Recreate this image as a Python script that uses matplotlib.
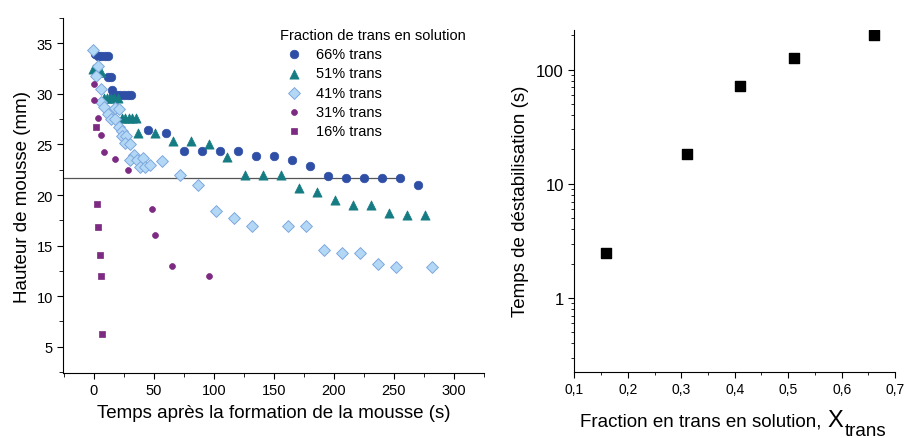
#!/usr/bin/env python3

import matplotlib
matplotlib.use("Agg")
import matplotlib.pyplot as plt
from matplotlib.ticker import MultipleLocator, FuncFormatter, LogLocator, NullFormatter

plt.rcParams["font.family"] = ["Liberation Sans", "DejaVu Sans"]

# --- left panel: foam height vs time, one series per trans fraction ---
t66 = [1, 3, 6, 9, 12, 12, 14, 15, 16, 19, 22, 25, 28, 31, 45, 60, 75, 90, 105, 120,
       135, 150, 165, 180, 195, 210, 225, 240, 255, 270]
h66 = [33.9, 33.7, 33.7, 33.7, 33.7, 31.7, 31.7, 30.4, 29.9, 29.9, 29.9, 29.9, 29.9, 29.9,
       26.4, 26.1, 24.4, 24.4, 24.4, 24.4, 23.9, 23.9, 23.5, 22.9, 21.9, 21.7, 21.7, 21.7,
       21.7, 21.0]

t51 = [-0.5, 4, 6, 8, 11, 14, 17, 20, 23, 26, 29, 32, 35, 37, 51, 66, 81, 96, 111,
       126, 141, 156, 171, 186, 201, 216, 231, 246, 261, 276]
h51 = [32.5, 32.2, 32.2, 29.6, 29.6, 29.6, 29.6, 29.6, 27.6, 27.6, 27.6, 27.6, 27.6, 26.1,
       26.1, 25.3, 25.3, 25.0, 23.8, 22.0, 22.0, 22.0, 20.7, 20.3, 19.5, 19.0, 19.0, 18.2,
       18.0, 18.0]

t41 = [-0.5, 3, 2, 6, 6, 8.5, 12, 14, 17.5, 17.5, 21, 21, 23.5, 23.5, 27, 26, 30, 33,
       30, 35.5, 41, 38, 42.5, 46.5, 57, 72, 87, 102, 117, 132, 162, 177, 192, 207,
       222, 237, 252, 282]
h41 = [34.3, 32.8, 31.8, 30.5, 29.2, 28.7, 28.0, 27.5, 27.5, 28.6, 28.5, 26.7, 26.3, 25.8,
       25.8, 25.1, 25.0, 24.0, 23.5, 23.5, 23.7, 22.8, 22.8, 23.0, 23.4, 22.0, 21.0, 18.4,
       17.7, 16.9, 16.9, 16.9, 14.6, 14.3, 14.3, 13.2, 12.9, 12.9]

t31 = [-0.3, 0.3, 3, 6, 8.5, 17.5, 28, 48.5, 51, 65, 96]
h31 = [31.0, 29.4, 27.6, 25.9, 24.3, 23.6, 22.5, 18.6, 16.0, 13.0, 12.0]

t16 = [1.9, 2.8, 3.6, 4.7, 5.6, 6.4]
h16 = [26.7, 19.1, 16.8, 14.1, 12.0, 6.3]

series_labels = ["66% trans", "51% trans", "41% trans", "31% trans", "16% trans"]

# stability plateau reference line
plateau_h = 21.66
plateau_t_end = 258

# --- right panel: destabilisation time vs trans fraction ---
x_trans = [0.16, 0.31, 0.41, 0.51, 0.66]
t_destab = [2.48, 18.1, 72.4, 126, 201]


fig = plt.figure(figsize=(9.06, 4.39), dpi=100)

ax1 = fig.add_axes([0.0699, 0.148, 0.4643, 0.8087])
ax2 = fig.add_axes([0.634, 0.151, 0.354, 0.779])

dark_blue = "#2f4fa6"
teal = "#157c83"
light_face = "#b3d8f6"
light_edge = "#7ea8de"
purple = "#7d2a82"

ax1.hlines(plateau_h, -25.5, plateau_t_end, color="#555555", linewidth=0.9, zorder=1)

ax1.scatter(t66, h66, s=38, marker="o", color=dark_blue, edgecolors=dark_blue,
            linewidths=0.5, label=series_labels[0], zorder=3)
ax1.scatter(t51, h51, s=44, marker="^", color=teal, edgecolors=teal,
            linewidths=0.5, label=series_labels[1], zorder=3)
ax1.scatter(t41, h41, s=36, marker="D", color=light_face, edgecolors=light_edge,
            linewidths=0.7, label=series_labels[2], zorder=4)
ax1.scatter(t31, h31, s=18, marker="o", color=purple, edgecolors=purple,
            linewidths=0.5, label=series_labels[3], zorder=5)
ax1.scatter(t16, h16, s=22, marker="s", color=purple, edgecolors=purple,
            linewidths=0.5, label=series_labels[4], zorder=5)

ax1.set_xlim(-25.5, 325)
ax1.set_ylim(2.4, 37.5)
ax1.xaxis.set_major_locator(MultipleLocator(50))
ax1.xaxis.set_minor_locator(MultipleLocator(25))
ax1.yaxis.set_major_locator(MultipleLocator(5))
ax1.yaxis.set_minor_locator(MultipleLocator(2.5))
ax1.spines["top"].set_visible(False)
ax1.spines["right"].set_visible(False)
ax1.tick_params(which="both", direction="out", labelsize=10.5)
ax1.tick_params(which="major", length=4)
ax1.tick_params(which="minor", length=3)
ax1.set_xlabel("Temps après la formation de la mousse (s)", fontsize=13.5, labelpad=5)
ax1.set_ylabel("Hauteur de mousse (mm)", fontsize=13.5, labelpad=4)

leg = ax1.legend(loc="upper left", bbox_to_anchor=(0.49, 1.0), frameon=False,
                 title="Fraction de trans en solution", fontsize=10.5,
                 title_fontsize=10.5, handletextpad=0.5, labelspacing=0.35,
                 borderpad=0.2)
leg._legend_box.align = "left"

# right panel
ax2.scatter(x_trans, t_destab, s=60, marker="s", color="black", zorder=3)
ax2.set_yscale("log")
ax2.set_xlim(0.1, 0.7)
ax2.set_ylim(0.226, 224)
ax2.xaxis.set_major_locator(MultipleLocator(0.1))
ax2.xaxis.set_minor_locator(MultipleLocator(0.05))
ax2.xaxis.set_major_formatter(FuncFormatter(lambda v, p: f"{v:.1f}".replace(".", ",")))
ax2.yaxis.set_major_locator(LogLocator(base=10))
ax2.yaxis.set_minor_locator(LogLocator(base=10, subs=range(2, 10)))
ax2.yaxis.set_major_formatter(FuncFormatter(lambda v, p: f"{v:g}"))
ax2.yaxis.set_minor_formatter(NullFormatter())
ax2.spines["top"].set_visible(False)
ax2.spines["right"].set_visible(False)
ax2.tick_params(which="both", direction="out")
ax2.tick_params(axis="x", labelsize=10)
ax2.tick_params(axis="y", labelsize=12)
ax2.tick_params(which="major", length=4)
ax2.tick_params(which="minor", length=2.5)
ax2.set_ylabel("Temps de déstabilisation (s)", fontsize=13.5, labelpad=5)

# x label with a large X and "trans" as subscript
fig.text(580 / 906, 0.028, "Fraction en trans en solution,", fontsize=13.5,
         ha="left", va="baseline")
fig.text(827 / 906, 0.028, "X", fontsize=17, ha="left", va="baseline")
fig.text(845 / 906, 0.006, "trans", fontsize=13.5, ha="left", va="baseline")

fig.savefig("out.png", dpi=100)
